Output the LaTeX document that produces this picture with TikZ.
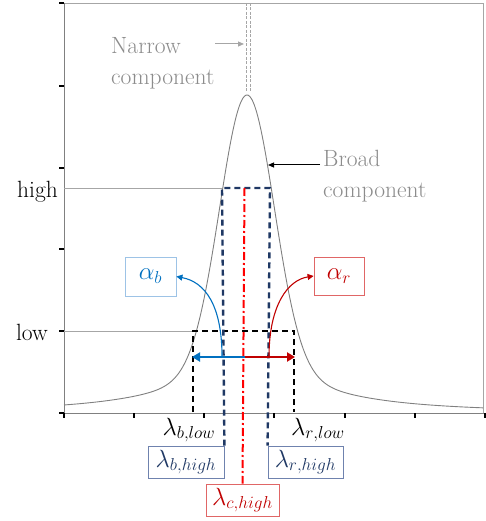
\documentclass[tikz,border=0pt]{standalone}
\usepackage{fontspec}
\usetikzlibrary{arrows.meta}
\definecolor{navy}{HTML}{1F3864}
\definecolor{navyframe}{HTML}{6F82AE}
\definecolor{bblue}{HTML}{0070C0}
\definecolor{bframe}{HTML}{9DC3E6}
\definecolor{dred}{HTML}{C00000}
\definecolor{rframe}{HTML}{E06666}
\definecolor{txtgray}{HTML}{8C8C8C}
\definecolor{axgray}{HTML}{A6A6A6}
\newcommand\subsz[1]{{\mbox{\fontsize{18}{20}\selectfont$#1$}}}
\tikzset{
  lbl/.style={inner sep=0pt, font=\fontsize{23.5}{31}\selectfont},
  mathlbl/.style={inner sep=0pt, font=\fontsize{25}{28}\selectfont},
  mathbox/.style={draw, line width=0.8pt, minimum width=#1, minimum height=32pt, inner sep=0pt, font=\fontsize{25}{28}\selectfont},
  tk/.style={line width=1.6pt, black},
  navydash/.style={navy, line width=2.4pt, dash pattern=on 6pt off 4pt},
  blackdash/.style={black, line width=2.4pt, dash pattern=on 6pt off 4pt},
  reddashdot/.style={red, line width=2pt, dash pattern=on 8pt off 3pt on 2pt off 3pt},
  guide/.style={axgray, line width=0.8pt},
}
\begin{document}
\begin{tikzpicture}[x=1pt,y=-1pt]
\useasboundingbox (0,0) rectangle (486,521);
% frame
\draw[axgray, line width=0.8pt] (64,3) -- (483,3) -- (483,413);
\draw[gray, line width=0.9pt] (64,3) -- (64,413) -- (485,413);
\foreach \yy in {3,86,168,249,331,413} \draw[tk] (59,\yy) -- (64,\yy);
\foreach \xx in {64,134,204,274,345,415,485} \draw[tk] (\xx,413) -- (\xx,418);
% guide lines
\draw[guide] (64,188) -- (222,188);
\draw[guide] (64,331) -- (193,331);
% narrow component lines
\draw[axgray, line width=0.7pt, dash pattern=on 3pt off 1.5pt] (246.5,3) -- (246.5,93);
\draw[axgray, line width=0.7pt, dash pattern=on 3pt off 1.5pt] (250.5,3) -- (250.5,93);
% curve
\draw[gray, line width=0.9pt] plot[domain=64:483, samples=240, smooth]
  (\x, {413 - 268*exp(-((\x-247)/38.18)^2) - 50/(1+((\x-247)/80)^2)});
% labels
\node[lbl, anchor=east] (high) at (58,192) {high};
\node[lbl, anchor=east] (low) at (48,332) {low};
\node[lbl, anchor=west, align=left, txtgray] (narrow) at (111,63) {Narrow\\component};
\coordinate (na1) at (215,44);
\coordinate (na2) at (244,44);
\draw[axgray, line width=1pt, -{Triangle[length=6pt,width=5pt]}] (na1) -- (na2);
\node[lbl, anchor=west, align=left, txtgray] (broad) at (323,176) {Broad\\component};
\coordinate (ba1) at (320,165);
\coordinate (ba2) at (268,165);
\draw[black, line width=1pt, -{Triangle[length=6pt,width=5pt]}] (ba1) -- (ba2);
% boxes
\node[mathbox=51pt, minimum height=39pt, draw=bframe, text=bblue] (alphab) at (150.5,276.5) {$\alpha_{\subsz{b}}$};
\node[mathbox=50pt, minimum height=38pt, draw=rframe, text=dred] (alphar) at (339,276) {$\alpha_{\subsz{r}}$};
\node[mathbox=76pt, draw=navyframe, text=navy] (lbh) at (186,462) {$\lambda_{\subsz{b{,}high}}$};
\node[mathbox=75pt, draw=navyframe, text=navy] (lrh) at (305.5,462) {$\lambda_{\subsz{r{,}high}}$};
\node[mathbox=73pt, draw=rframe, text=dred] (lch) at (242.5,500) {$\lambda_{\subsz{c{,}high}}$};
\node[mathlbl] (lbl) at (189,430) {$\lambda_{\subsz{b{,}low}}$};
\node[mathlbl] (lrl) at (318,430) {$\lambda_{\subsz{r{,}low}}$};
% low rectangle
\coordinate (bl) at (193,412);
\coordinate (br) at (294,412);
\draw[blackdash] (bl) |- (294,331) -- (br);
% high rectangle
\coordinate (tl) at (222,188);
\coordinate (tr) at (270,188);
\draw[navydash] (lbh.north east) -- (tl) -- (tr) -- (lrh.north west);
% center
\coordinate (ctop) at (244.5,188);
\draw[reddashdot] (ctop) -- (lch.north);
% horizontal arrows
\coordinate (c0) at (244.5,357);
\coordinate (cl) at (192,357);
\coordinate (cr) at (295,357);
\draw[bblue, line width=2.4pt, -{Triangle[length=8pt,width=9pt]}] (c0) -- (cl);
\draw[dred, line width=2.4pt, -{Triangle[length=8pt,width=9pt]}] (c0) -- (cr);
% curved arrows
\coordinate (bs) at (222,357);
\coordinate (rs) at (269,357);
\draw[bblue, line width=1.1pt, -{Triangle[length=6pt,width=6pt]}] (bs) .. controls (222,305) and (205,282) .. (alphab.east);
\draw[dred, line width=1.1pt, -{Triangle[length=6pt,width=6pt]}] (rs) .. controls (269,305) and (288,280) .. (alphar.west);
\end{tikzpicture}
\end{document}
